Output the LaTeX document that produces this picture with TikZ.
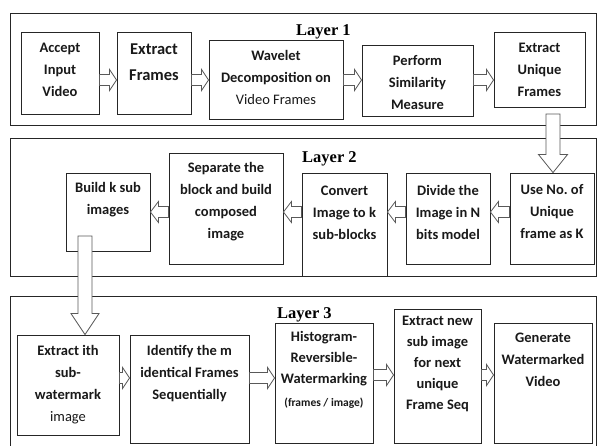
\documentclass[tikz,border=0pt]{standalone}
\usepackage{fontspec}
\setmainfont{Carlito}
\newfontfamily\layerfont{Liberation Serif}
\usetikzlibrary{calc}
\frenchspacing

\tikzset{
  stage/.style={draw=black!85, line width=0.9pt, fill=white, inner sep=0pt},
  layerframe/.style={draw=black!85, line width=1pt},
  caption/.style={font=\bfseries\fontsize{14.5}{22}\selectfont, align=center, text=black!90, inner sep=0pt},
  layertitle/.style={font=\layerfont\bfseries\fontsize{16.5}{18}\selectfont, inner sep=0pt, anchor=base west},
  hollow/.style={draw=black!65, line width=0.8pt, fill=white, line join=miter},
}

% hollow block arrow from #1 to #2: shaft half width #3, head half width #4, head length #5
\newcommand\blockarrow[5]{%
  \draw[hollow] let \p1=#1, \p2=#2,
    \n1={atan2(\y2-\y1,\x2-\x1)}, \n2={veclen(\x2-\x1,\y2-\y1)} in
    [shift={(\p1)}, rotate=\n1]
    (0,-#3) -- ({\n2-#5},-#3) -- ({\n2-#5},-#4) -- (\n2,0) -- ({\n2-#5},#4)
    -- ({\n2-#5},#3) -- (0,#3) -- cycle;}

\begin{document}
\begin{tikzpicture}[x=1pt, y=1pt]
\useasboundingbox (0,0) rectangle (597,-445);
\clip (0,0) rectangle (597,-445);

% layer frames
\draw[layerframe] (10,-13) rectangle (596,-125);
\draw[layerframe] (10,-138) rectangle (596,-276);
\draw[layerframe] (10,-470) -- (10,-296) -- (596,-296) -- (596,-470);

\node[layertitle] (l1) at (296,-35) {Layer 1};
\node[layertitle] (l2) at (302,-162) {Layer 2};
\node[layertitle] (l3) at (277,-318) {Layer 3};

% layer 1 stages
\node[stage, minimum width=78, minimum height=82] (acc) at (60,-73) {};
\node[stage, minimum width=74, minimum height=82] (ext) at (154,-73) {};
\node[stage, minimum width=134, minimum height=79] (wav) at (276,-79.5) {};
\node[stage, minimum width=111, minimum height=71] (sim) at (417.5,-80.5) {};
\node[stage, minimum width=91, minimum height=75] (unq) at (539.5,-69.5) {};

\node[caption] (acc-t) at (60,-70) {Accept\\Input\\Video};
\node[caption, font=\bfseries\fontsize{16.5}{26}\selectfont] (ext-t) at (154,-62) {Extract\\Frames};
\node[caption] (wav-t) at (276,-77) {Wavelet\\Decomposition on\\{\mdseries Video Frames}};
\node[caption] (sim-t) at (417.5,-83) {Perform\\Similarity\\Measure};
\node[caption] (unq-t) at (539.5,-70) {Extract\\Unique\\Frames};

% layer 2 stages
\node[stage, minimum width=84, minimum height=91] (use) at (552,-218.5) {};
\node[stage, minimum width=84, minimum height=91] (div) at (448,-218.5) {};
\node[stage, minimum width=85, minimum height=103] (cnv) at (344.5,-224.5) {};
\node[stage, minimum width=114, minimum height=111] (sep) at (226,-208.5) {};
\node[stage, minimum width=84, minimum height=78] (bld) at (108,-212) {};

\node[caption] (use-t) at (552,-212) {Use No.\ of\\Unique\\frame as K};
\node[caption] (div-t) at (448,-212) {Divide the\\Image in N\\bits model};
\node[caption] (cnv-t) at (344.5,-213) {Convert\\Image to k\\sub-blocks};
\node[caption] (sep-t) at (226,-202) {Separate the\\block and build\\composed\\image};
\node[caption] (bld-t) at (108,-200) {Build k sub\\images};

% layer 3 stages
\node[stage, minimum width=102, minimum height=100] (ith) at (68,-385) {};
\node[stage, minimum width=119, minimum height=108] (idt) at (189.5,-389) {};
\node[stage, minimum width=98, minimum height=120] (his) at (324,-383) {};
\node[stage, minimum width=87, minimum height=134] (nxt) at (437.5,-376) {};
\node[stage, minimum width=98, minimum height=120] (gen) at (543,-383) {};

\node[caption] (ith-t) at (68,-385) {Extract ith\\sub-\\watermark\\{\mdseries image}};
\node[caption] (idt-t) at (189.5,-374) {Identify the m\\identical Frames\\Sequentially};
\node[caption, font=\bfseries\fontsize{14.5}{21}\selectfont] (his-t) at (324,-359) {Histogram-\\Reversible-\\Watermarking};
\node[caption, font=\bfseries\fontsize{11.5}{13}\selectfont] (his-n) at (324,-403) {(frames / image)};
\node[caption, font=\bfseries\fontsize{14.5}{21}\selectfont] (nxt-t) at (437.5,-364) {Extract new\\sub image\\for next\\unique\\Frame Seq};
\node[caption] (gen-t) at (543,-360) {Generate\\Watermarked\\Video};

% row heights of the connectors
\coordinate (r1) at (0,-80);
\coordinate (r2) at (0,-212);
\coordinate (r3) at (0,-378);
\coordinate (r4) at (0,-375);
\coordinate (d1) at (553,-114);
\coordinate (d2) at (85,-236);

% layer 1 flow
\blockarrow{(acc.east |- r1)}{(ext.west |- r1)}{5.5}{10.5}{7}
\blockarrow{(ext.east |- r1)}{(wav.west |- r1)}{5.5}{10.5}{7}
\blockarrow{(wav.east |- r1)}{(sim.west |- r1)}{5.5}{10.5}{7}
\blockarrow{(sim.east |- r1)}{(unq.west |- r1)}{5.5}{10.5}{7}

% down into layer 2
\blockarrow{(d1)}{(d1 |- use.north)}{7}{14.5}{18}

% layer 2 flow (right to left)
\blockarrow{(use.west |- r2)}{(div.east |- r2)}{5.5}{10.5}{8}
\blockarrow{(div.west |- r2)}{(cnv.east |- r2)}{5.5}{10.5}{8}
\blockarrow{(cnv.west |- r2)}{(sep.east |- r2)}{5.5}{10.5}{8}
\blockarrow{(sep.west |- r2)}{(bld.east |- r2)}{5.5}{10.5}{8}

% down into layer 3
\blockarrow{(d2)}{(d2 |- ith.north)}{7}{14}{21}

% layer 3 flow
\blockarrow{(ith.east |- r3)}{(idt.west |- r3)}{5.5}{10.5}{7}
\blockarrow{(idt.east |- r3)}{(his.west |- r3)}{5.5}{10.5}{7}
\blockarrow{(his.east |- r4)}{(nxt.west |- r4)}{5.5}{10.5}{7}
\blockarrow{(nxt.east |- r4)}{(gen.west |- r4)}{5.5}{10.5}{7}
\end{tikzpicture}
\end{document}
